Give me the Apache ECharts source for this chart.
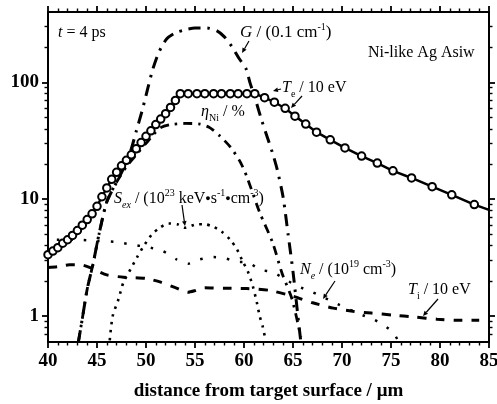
<!DOCTYPE html>
<html>
<head>
<meta charset="utf-8">
<script src="https://cdn.jsdelivr.net/npm/echarts@6/dist/echarts.min.js"></script>
<style>html,body{margin:0;padding:0;background:#fff;overflow:hidden;}#c{width:510px;height:420px;}</style>
</head>
<body>
<div id="c"></div>
<script>
// ---- data ----
const xTicks = [40, 45, 50, 55, 60, 65, 70, 75, 80, 85];
const yMajor = [1, 10, 100];
const yMinor = [0.7, 0.8, 0.9, 2, 3, 4, 5, 6, 7, 8, 9, 20, 30, 40, 50, 60, 70, 80, 90, 200, 300];

// T_e / 10 eV (open circles, solid line)
const teX = [40.0,40.5,41.0,41.5,42.0,42.5,43.0,43.5,44.0,44.5,45.0,45.5,46.0,46.5,47.0,47.5,48.0,48.5,49.0,49.5,50.0,50.5,51.0,51.5,52.0,52.5,53.0,53.5,54.3,55.2,56.0,56.9,57.7,58.6,59.4,60.3,61.1,62.1,63.1,64.2,65.2,66.3,67.4,68.8,70.3,72.0,73.6,75.2,77.1,79.2,81.2,83.5,85.0];
const teY = [3.35,3.6,3.85,4.2,4.5,4.9,5.4,6.0,6.7,7.5,8.7,10.5,12.5,14.8,17.0,19.3,21.5,24.0,27.0,30.5,34.5,38.5,43.5,48.5,54,61,70,80,80,80,80,80,80,80,80,80,80,74,67.6,60,51.4,44,37.5,32.2,27.5,23.4,20.4,17.5,15.2,12.8,10.9,9.0,8.1];

// G / (0.1 cm^-1)
const gX = [43.1,43.5,44.0,44.6,45.2,46.0,47.0,47.8,48.5,49.0,49.6,50.2,50.7,51.3,52.1,53.0,54.0,55.0,56.2,57.2,58.0,58.8,59.5,60.2,60.6,61.2,61.8,62.9,63.4,64.0,64.5,65.0,65.5,65.8];
const gY = [0.6,0.95,1.7,2.8,5.0,9.5,14,19,27,38,57,90,130,180,235,265,282,292,292,277,245,200,160,131,100,70,47.5,25,17.8,10.3,5.0,2.4,1.0,0.6];

// eta_Ni / %
const etaX = [43.1,43.5,44.0,44.6,45.2,46.0,47.0,48.0,49.0,50.0,50.8,51.5,52.5,54.0,55.5,56.5,57.5,58.6,59.6,60.3,61.6,62.9,63.9,64.9,65.8];
const etaY = [0.6,0.95,1.7,2.8,5.0,9.5,14,19,24,30,36,41,43.5,44.5,44,41,35,28,21,15.5,7.7,4.3,2.3,1.4,0.66];

// S / (10^23 keV s^-1 cm^-3)
const sX = [46.3,46.6,47.2,47.7,48.4,49.1,49.7,50.6,51.4,52.3,53.2,54.0,55.2,56.0,56.9,57.7,58.6,59.3,59.9,60.4,60.9,61.3,61.6,61.9,62.2];
const sY = [0.62,1.0,1.4,1.95,2.5,3.2,3.9,5.0,5.7,6.2,6.1,5.7,6.1,6.1,5.8,5.3,4.5,3.7,2.9,2.4,1.8,1.32,1.0,0.82,0.62];

// N_e / (10^19 cm^-3)
const neX = [40.9,43.0,45.0,47.0,48.4,50.1,51.7,53.1,54.3,55.5,56.9,58.2,59.3,60.3,61.6,63.0,64.2,65.5,67.0,68.1,69.5,71.8,73.2,74.4,75.2,75.7];
const neY = [4.5,4.5,4.4,4.3,4.1,3.9,3.6,3.06,2.8,3.06,3.2,3.1,2.9,2.9,2.5,2.37,2.06,1.8,1.6,1.45,1.27,1.04,0.94,0.82,0.73,0.62];

// T_i / 10 eV
const tiX = [40,41,42.2,43.3,44.3,46,47.7,50,51.5,53,54.3,55,56,58,60.3,62.6,65,67,69.1,71.1,73,75.2,77.4,79.7,81.5,84];
const tiY = [2.6,2.65,2.75,2.75,2.6,2.25,2.15,2.1,1.95,1.75,1.6,1.65,1.75,1.73,1.72,1.66,1.48,1.3,1.17,1.1,1.06,1.02,0.98,0.94,0.92,0.92];

// ---- chart ----
const FONT = '"Liberation Serif","Times New Roman",serif';
const pairs = (xs, ys) => xs.map((x, i) => [x, ys[i]]);

const chart = echarts.init(document.getElementById('c'));

function axLine() { return {show: true, onZero: false, lineStyle: {color: '#000', width: 2}}; }
function xBase() {
  return {
    type: 'value', min: xTicks[0], max: xTicks[xTicks.length - 1], interval: 5,
    splitLine: {show: false},
    axisLine: axLine(),
    axisTick: {show: true, length: 6, lineStyle: {color: '#000', width: 1.8}},
    minorTick: {show: true, splitNumber: 5, length: 3.5, lineStyle: {color: '#000', width: 1.4}}
  };
}
function yBase() {
  return {type: 'log', logBase: 10, min: 0.6, max: 400, splitLine: {show: false}, axisLine: axLine()};
}
function majTick() { return {show: true, customValues: yMajor, length: 6, lineStyle: {color: '#000', width: 1.8}}; }
function minTick() { return {show: true, customValues: yMinor, length: 3.5, lineStyle: {color: '#000', width: 1.4}}; }

function arrow(x1, y1, x2, y2) {
  const a = Math.atan2(y2 - y1, x2 - x1);
  const L = 5, W = 2.3;
  const bx = x2 - L * Math.cos(a), by = y2 - L * Math.sin(a);
  const px = -Math.sin(a) * W, py = Math.cos(a) * W;
  return [
    {type: 'line', shape: {x1: x1, y1: y1, x2: bx, y2: by}, style: {stroke: '#000', lineWidth: 1.2}, z: 100},
    {type: 'polygon', shape: {points: [[x2, y2], [bx + px, by + py], [bx - px, by - py]]}, style: {fill: '#000'}, z: 100}
  ];
}
const richBase = {
  i: {fontStyle: 'italic', fontFamily: FONT, fontSize: 16, lineHeight: 22},
  sub: {fontFamily: FONT, fontSize: 10, lineHeight: 12, verticalAlign: 'bottom'},
  subi: {fontFamily: FONT, fontStyle: 'italic', fontSize: 10, lineHeight: 12, verticalAlign: 'bottom'},
  sup: {fontFamily: FONT, fontSize: 10, lineHeight: 10, verticalAlign: 'top'},
  dot: {fontFamily: FONT, fontSize: 9, lineHeight: 22}
};
function label(x, y, text, size) {
  const rich = JSON.parse(JSON.stringify(richBase));
  rich.i.fontSize = size || 16;
  return {
    type: 'text', x: x, y: y, z: 100,
    style: {text: text, rich: rich, fontFamily: FONT, fontSize: size || 16, lineHeight: 22,
            fill: '#000', verticalAlign: 'middle', align: 'left'}
  };
}

const graphics = [
  label(58, 33, '{i|t} = 4 ps', 16),
  label(240, 33, '{i|G} / (0.1 cm{sup|-1})', 17),
  label(368, 53, 'Ni-like Ag Asiw', 16),
  label(282, 88, '{i|T}{sub|e} / 10 eV', 16),
  label(201, 112, '{i|η}{sub|Ni} / %', 16),
  label(114, 199, '{i|S}{subi|ex} / (10{sup|23} keV{dot|●}s{sup|-1}{dot|●}cm{sup|-3})', 16),
  label(300, 270, '{i|N}{subi|e} / (10{sup|19} cm{sup|-3})', 16),
  label(408, 290, '{i|T}{sub|i} / 10 eV', 16)
].concat(
  arrow(249, 41, 242, 53),
  arrow(281, 89, 273, 91),
  arrow(302, 96, 291, 108),
  arrow(182, 205, 185, 226),
  arrow(335, 281, 323, 299),
  arrow(438, 299, 423, 316)
);

const teData = pairs(teX, teY).map((p, i, arr) =>
  i === arr.length - 1 ? {value: p, symbol: 'none'} : {value: p});

// container is slightly larger than the 497x404 window so no label overflows it;
// the plot area keeps the reference position (x 48..489, y 12..342)
const option = {
  animation: false,
  grid: {left: 48, right: 21, top: 12, bottom: 78, outerBoundsMode: 'none'},
  xAxis: [
    Object.assign(xBase(), {
      position: 'bottom',
      axisLabel: {show: true, margin: 10, fontFamily: FONT, fontSize: 19, fontWeight: 'bold', color: '#000'},
      name: 'distance from target surface / μm',
      nameLocation: 'middle', nameGap: 40,
      nameTextStyle: {fontFamily: FONT, fontSize: 19, fontWeight: 'bold', color: '#000'}
    }),
    Object.assign(xBase(), {position: 'top', axisLabel: {show: false}})
  ],
  yAxis: [
    Object.assign(yBase(), {position: 'left', axisTick: majTick(),
      axisLabel: {show: true, customValues: yMajor, margin: 9, fontFamily: FONT, fontSize: 19, fontWeight: 'bold', color: '#000'}}),
    Object.assign(yBase(), {position: 'left', axisTick: minTick(), axisLabel: {show: false}}),
    Object.assign(yBase(), {position: 'right', axisTick: majTick(), axisLabel: {show: false}}),
    Object.assign(yBase(), {position: 'right', axisTick: minTick(), axisLabel: {show: false}})
  ],
  series: [
    {name: 'Ti', type: 'line', data: pairs(tiX, tiY), showSymbol: false, smooth: 0.2,
     lineStyle: {color: '#000', width: 3, type: [9, 9]}},
    {name: 'Ne', type: 'line', data: pairs(neX, neY), showSymbol: false, smooth: 0.2,
     lineStyle: {color: '#000', width: 2.5, type: [2.5, 11]}},
    {name: 'S', type: 'line', data: pairs(sX, sY), showSymbol: false, smooth: 0.25,
     lineStyle: {color: '#000', width: 2.6, type: [2.5, 5.5]}},
    {name: 'eta', type: 'line', data: pairs(etaX, etaY), showSymbol: false, smooth: 0.25,
     lineStyle: {color: '#000', width: 2.8, type: [9, 6, 2.5, 6]}},
    {name: 'G', type: 'line', data: pairs(gX, gY), showSymbol: false, smooth: 0.25,
     lineStyle: {color: '#000', width: 3, type: [12, 7, 2.5, 7]}},
    {name: 'Te', type: 'line', data: teData, symbol: 'emptyCircle', symbolSize: 7.5,
     itemStyle: {color: '#000', borderColor: '#000', borderWidth: 1.1},
     lineStyle: {color: '#000', width: 2.5}}
  ]
};
chart.setOption(option);
chart.setOption({graphic: graphics});
</script>
</body>
</html>
